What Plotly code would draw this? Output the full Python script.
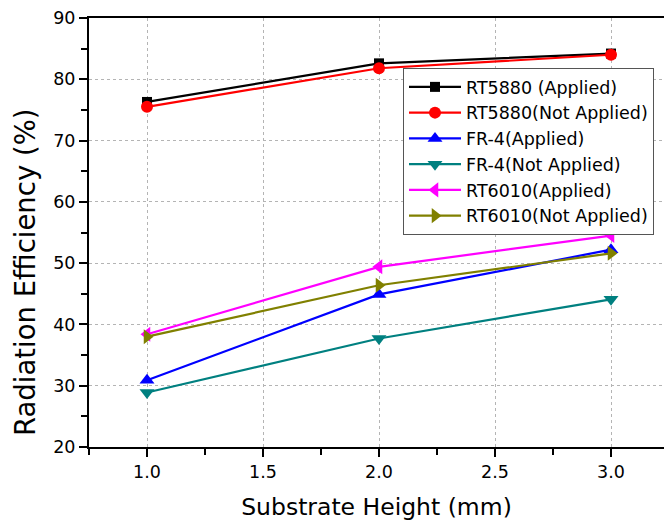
import plotly.graph_objects as go

heights = [1.0, 2.0, 3.0]
rt5880_applied = [76.3, 82.6, 84.2]
rt5880_not_applied = [75.5, 81.8, 84.0]
fr4_applied = [30.9, 44.9, 52.2]
fr4_not_applied = [28.9, 37.7, 44.1]
rt6010_applied = [38.4, 49.4, 54.5]
rt6010_not_applied = [38.0, 46.4, 51.6]

names = ["RT5880 (Applied)", "RT5880(Not Applied)", "FR-4(Applied)",
         "FR-4(Not Applied)", "RT6010(Applied)", "RT6010(Not Applied)"]
series = [rt5880_applied, rt5880_not_applied, fr4_applied,
          fr4_not_applied, rt6010_applied, rt6010_not_applied]
colors = ["#000000", "#ff0000", "#0000ff", "#008080", "#ff00ff", "#808000"]
symbols = ["square", "circle", "triangle-up", "triangle-down", "triangle-left", "triangle-right"]
sizes = [10, 12, 13, 13, 13, 13]

FONT = "DejaVu Sans"

fig = go.Figure()
for i, (nm, ys) in enumerate(zip(names, series)):
    fig.add_trace(go.Scatter(
        x=heights, y=ys, name=nm, mode="lines+markers",
        line=dict(color=colors[i], width=2.2),
        marker=dict(symbol=symbols[i], size=sizes[i], color=colors[i]),
    ))

fig.update_layout(
    width=664, height=528,
    margin=dict(l=89, r=0, t=18, b=81),
    paper_bgcolor="white", plot_bgcolor="white",
    font=dict(family=FONT, color="black"),
    showlegend=True,
    legend=dict(
        x=(403 - 89) / 575, y=1 - (68 - 18) / 429, xanchor="left", yanchor="top",
        bordercolor="#555555", borderwidth=1, bgcolor="white",
        font=dict(family=FONT, size=17.5, color="black"),
        itemwidth=52, traceorder="normal",
    ),
    xaxis=dict(
        range=[0.75, 0.75 + 575 / 232], tickvals=[1.0, 1.5, 2.0, 2.5, 3.0],
        ticktext=["1.0", "1.5", "2.0", "2.5", "3.0"],
        ticks="outside", ticklen=8, tickwidth=2, tickcolor="black",
        minor=dict(tickvals=[0.75, 1.25, 1.75, 2.25, 2.75, 3.25], ticks="outside",
                   ticklen=6, tickwidth=2, tickcolor="black", showgrid=False),
        showline=True, linecolor="black", linewidth=2, mirror=True,
        showgrid=True, gridcolor="#b4b4b4", griddash="dot", gridwidth=1,
        zeroline=False,
        tickfont=dict(family=FONT, size=17.5),
        title=dict(text="Substrate Height (mm)", font=dict(family=FONT, size=23.5), standoff=18),
    ),
    yaxis=dict(
        range=[20, 90], tickvals=[20, 30, 40, 50, 60, 70, 80, 90],
        ticks="outside", ticklen=8, tickwidth=2, tickcolor="black",
        minor=dict(tickvals=[25, 35, 45, 55, 65, 75, 85], ticks="outside",
                   ticklen=6, tickwidth=2, tickcolor="black", showgrid=False),
        showline=True, linecolor="black", linewidth=2, mirror=False,
        showgrid=True, gridcolor="#b4b4b4", griddash="dot", gridwidth=1,
        zeroline=False,
        tickfont=dict(family=FONT, size=17.5),
    ),
    annotations=[dict(
        text="Radiation Efficiency (%)", textangle=-90, showarrow=False,
        xref="paper", yref="paper", x=(25 - 89) / 575, y=1 - (272 - 18) / 429,
        xanchor="center", yanchor="middle",
        font=dict(family=FONT, size=27.5, color="black"),
    )],
)

fig.write_html(
    "out.html",
    config={"displayModeBar": False},
    post_script="document.body.style.margin='0';document.body.style.overflow='hidden';",
)
